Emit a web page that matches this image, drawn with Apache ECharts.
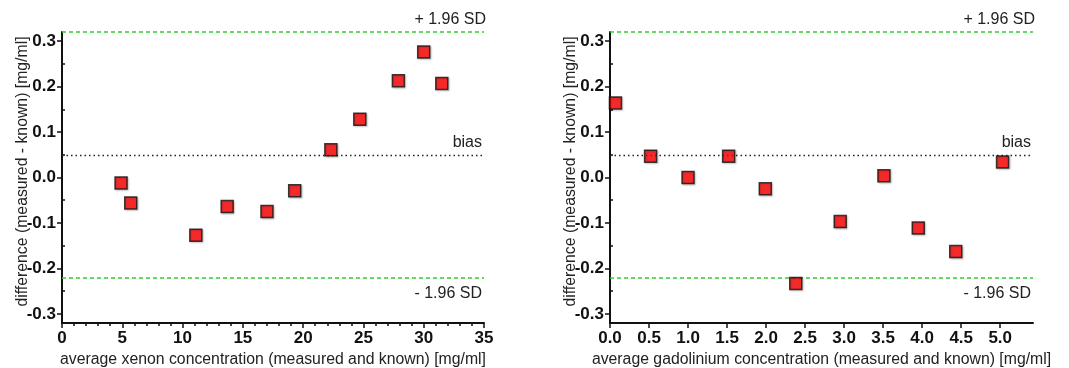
<!DOCTYPE html>
<html>
<head>
<meta charset="utf-8">
<script src="https://cdn.jsdelivr.net/npm/echarts@6/dist/echarts.min.js"></script>
<style>
  html, body { margin: 0; padding: 0; background: #fff; }
  #chart { width: 1069px; height: 368px; }
</style>
</head>
<body>
<div id="chart"></div>
<script>
// Bland-Altman data
const xenonAvg = [4.9, 5.7, 11.1, 13.7, 17.0, 19.3, 22.3, 24.7, 27.9, 30.0, 31.5];
const xenonDiff = [-0.012, -0.056, -0.127, -0.064, -0.075, -0.029, 0.061, 0.128, 0.213, 0.276, 0.207];

const gadoAvg = [0.07, 0.52, 1.0, 1.52, 1.99, 2.38, 2.95, 3.51, 3.95, 4.43, 5.03];
const gadoDiff = [0.164, 0.047, 0.0, 0.047, -0.025, -0.233, -0.097, 0.004, -0.111, -0.163, 0.034];

// limits of agreement: upper, bias, lower
const limitValues = [0.318, 0.048, -0.221];
const limitLabels = ["+ 1.96 SD", "bias", "- 1.96 SD"];

const yTicks = [-0.3, -0.2, -0.1, 0, 0.1, 0.2, 0.3];
const yMinorTicks = [-0.25, -0.15, -0.05, 0.05, 0.15, 0.25];
const xenonTicks = [0, 5, 10, 15, 20, 25, 30, 35];
const gadoTicks = [0, 0.5, 1.0, 1.5, 2.0, 2.5, 3.0, 3.5, 4.0, 4.5, 5.0];

const FONT = "Liberation Sans, Arial, sans-serif";

const chart = echarts.init(document.getElementById("chart"), null, { renderer: "canvas" });

const axisLine = { show: true, onZero: false, lineStyle: { color: "#111", width: 2 } };
const tickLabel = { color: "#111", fontSize: 17, fontWeight: "bold", fontFamily: FONT };
const nameStyle = { color: "#222", fontSize: 15.8, fontFamily: FONT };

function yAxisMain(gi) {
  return {
    type: "value", gridIndex: gi, min: -0.32, max: 0.32,
    name: "difference (measured - known) [mg/ml]",
    nameLocation: "middle", nameGap: 31, nameMoveOverlap: false,
    nameTextStyle: Object.assign({ padding: [0, 0, 0, 12] }, nameStyle),
    axisLine: axisLine,
    axisTick: { show: true, length: 5, customValues: yTicks, lineStyle: { color: "#111", width: 1.5 } },
    axisLabel: Object.assign({ margin: 6, customValues: yTicks, formatter: v => v.toFixed(1) }, tickLabel),
    splitLine: { show: false }
  };
}
function yAxisMinor(gi) {
  return {
    type: "value", gridIndex: gi, min: -0.32, max: 0.32,
    axisLine: { show: false },
    axisTick: { show: true, length: 3, customValues: yMinorTicks, lineStyle: { color: "#111", width: 1.5 } },
    axisLabel: { show: false },
    splitLine: { show: false }
  };
}

function limitLines() {
  return {
    silent: true, symbol: "none", animation: false,
    data: limitValues.map((v, i) => ({
      yAxis: v,
      lineStyle: i === 1
        ? { color: "#222", type: [1.5, 3], width: 1.3 }
        : { color: "#33cc33", type: [4, 3], width: 1.5 },
      label: {
        show: true, formatter: limitLabels[i],
        position: i === 2 ? "insideEndBottom" : "insideEndTop",
        distance: [i === 0 ? -2 : 2, i === 2 ? 8 : 4],
        color: "#222", fontSize: 16, fontFamily: FONT
      }
    }))
  };
}

const pointStyle = { color: "#ff0000", borderColor: "#111", borderWidth: 1.5,
  shadowColor: "rgba(0,0,0,0.25)", shadowBlur: 2, shadowOffsetX: 1, shadowOffsetY: 1 };

const option = {
  animation: false,
  grid: [
    { left: 62, right: 585, top: 32, bottom: 45, outerBoundsMode: "none" },
    { left: 610, right: 36, top: 32, bottom: 45, outerBoundsMode: "none" }
  ],
  xAxis: [
    {
      type: "value", gridIndex: 0, min: 0, max: 35, interval: 5,
      name: "average xenon concentration (measured and known) [mg/ml]",
      nameLocation: "middle", nameGap: 29, nameMoveOverlap: false, nameTextStyle: nameStyle,
      axisLine: axisLine,
      axisTick: { show: true, length: 5, lineStyle: { color: "#111", width: 1.5 } },
      minorTick: { show: true, splitNumber: 5, length: 3, lineStyle: { color: "#111", width: 1.5 } },
      axisLabel: Object.assign({ margin: 7, customValues: xenonTicks }, tickLabel),
      splitLine: { show: false }
    },
    {
      type: "value", gridIndex: 1, min: 0, max: 5.42,
      name: "average gadolinium concentration (measured and known) [mg/ml]",
      nameLocation: "middle", nameGap: 29, nameMoveOverlap: false, nameTextStyle: nameStyle,
      axisLine: axisLine,
      axisTick: { show: true, length: 5, customValues: gadoTicks, lineStyle: { color: "#111", width: 1.5 } },
      axisLabel: Object.assign({ margin: 7, customValues: gadoTicks, formatter: v => v.toFixed(1) }, tickLabel),
      splitLine: { show: false }
    }
  ],
  yAxis: [yAxisMain(0), yAxisMain(1), yAxisMinor(0), yAxisMinor(1)],
  series: [
    {
      type: "scatter", xAxisIndex: 0, yAxisIndex: 0,
      data: xenonAvg.map((x, i) => [x, xenonDiff[i]]),
      symbol: "rect", symbolSize: 12, itemStyle: pointStyle,
      markLine: limitLines(), z: 5
    },
    {
      type: "scatter", xAxisIndex: 1, yAxisIndex: 1,
      data: gadoAvg.map((x, i) => [x, gadoDiff[i]]),
      symbol: "rect", symbolSize: 12, itemStyle: pointStyle,
      markLine: limitLines(), z: 5
    }
  ]
};

chart.setOption(option);
</script>
</body>
</html>
